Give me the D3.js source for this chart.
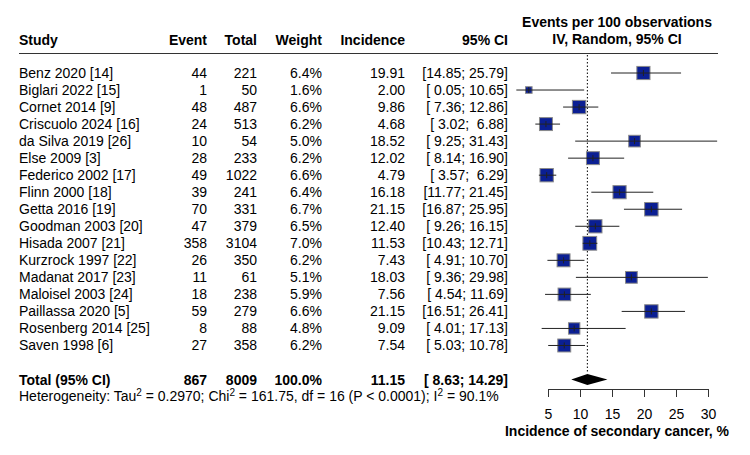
<!DOCTYPE html>
<html>
<head>
<meta charset="utf-8">
<script src="https://cdn.jsdelivr.net/npm/d3@7"></script>
<style>
  body { margin: 0; background: #fff; }
  svg text { font-family: "Liberation Sans", Arial, sans-serif; font-size: 14px; fill: #000; white-space: pre; }
  .bold { font-weight: bold; }
</style>
</head>
<body>
<div id="chart"></div>
<script>
(function() {
  const studies = ["Benz 2020 [14]", "Biglari 2022 [15]", "Cornet 2014 [9]", "Criscuolo 2024 [16]",
    "da Silva 2019 [26]", "Else 2009 [3]", "Federico 2002 [17]", "Flinn 2000 [18]", "Getta 2016 [19]",
    "Goodman 2003 [20]", "Hisada 2007 [21]", "Kurzrock 1997 [22]", "Madanat 2017 [23]",
    "Maloisel 2003 [24]", "Paillassa 2020 [5]", "Rosenberg 2014 [25]", "Saven 1998 [6]"];
  const events = [44, 1, 48, 24, 10, 28, 49, 39, 70, 47, 358, 26, 11, 18, 59, 8, 27];
  const totals = [221, 50, 487, 513, 54, 233, 1022, 241, 331, 379, 3104, 350, 61, 238, 279, 88, 358];
  const weights = [6.4, 1.6, 6.6, 6.2, 5.0, 6.2, 6.6, 6.4, 6.7, 6.5, 7.0, 6.2, 5.1, 5.9, 6.6, 4.8, 6.2];
  const incidence = [19.91, 2.00, 9.86, 4.68, 18.52, 12.02, 4.79, 16.18, 21.15, 12.40, 11.53, 7.43, 18.03, 7.56, 21.15, 9.09, 7.54];
  const ciLow = [14.85, 0.05, 7.36, 3.02, 9.25, 8.14, 3.57, 11.77, 16.87, 9.26, 10.43, 4.91, 9.36, 4.54, 16.51, 4.01, 5.03];
  const ciHigh = [25.79, 10.65, 12.86, 6.88, 31.43, 16.90, 6.29, 21.45, 25.95, 16.15, 12.71, 10.70, 29.98, 11.69, 26.41, 17.13, 10.78];

  const pooled = { events: 867, total: 8009, weight: 100.0, est: 11.15, lo: 8.63, hi: 14.29 };
  const axisTicks = [5, 10, 15, 20, 25, 30];

  const width = 750, height = 455;
  const rowTop = 73, rowStep = 17.03;

  const svg = d3.select("#chart").append("svg")
    .attr("width", width)
    .attr("height", height);

  const x = d3.scaleLinear().domain([5, 30]).range([548, 708]);
  const y = d3.scaleLinear().domain([0, 1]).range([rowTop, rowTop + rowStep]);

  const cols = { study: 19, event: 207, total: 257, weight: 322, inc: 405, ci: 508 };

  // header
  const head = svg.append("g").attr("class", "bold");
  head.append("text").attr("x", cols.study).attr("y", 45).text("Study");
  [["Event", cols.event], ["Total", cols.total], ["Weight", cols.weight], ["Incidence", cols.inc], ["95% CI", cols.ci]]
    .forEach(function(h) {
      head.append("text").attr("x", h[1]).attr("y", 45).attr("text-anchor", "end").text(h[0]);
    });
  head.append("text").attr("x", 617).attr("y", 27).attr("text-anchor", "middle").text("Events per 100 observations");
  head.append("text").attr("x", 617).attr("y", 44).attr("text-anchor", "middle").text("IV, Random, 95% CI");

  svg.append("line")
    .attr("x1", 19).attr("x2", 718)
    .attr("y1", 53.5).attr("y2", 53.5)
    .attr("stroke", "#333").attr("stroke-width", 1);

  const fmt = d3.format(".2f");
  function pad(v) {
    let s = fmt(v);
    while (s.length < 5) s = " " + s;
    return s;
  }
  function ciText(lo, hi) {
    return "[" + pad(lo) + "; " + pad(hi) + "]";
  }

  const rows = studies.map(function(s, i) {
    return { study: s, ev: events[i], n: totals[i], w: weights[i], est: incidence[i], lo: ciLow[i], hi: ciHigh[i], i: i };
  });

  // dotted line at pooled estimate
  svg.append("line")
    .attr("x1", x(pooled.est)).attr("x2", x(pooled.est))
    .attr("y1", 55).attr("y2", y(18) - 6)
    .attr("stroke", "#000").attr("stroke-width", 1)
    .attr("stroke-dasharray", "1.5,2");

  const row = svg.selectAll(".row")
    .data(rows)
    .enter().append("g")
    .attr("class", "row");

  row.append("text").attr("x", cols.study).attr("y", d => y(d.i) + 5).text(d => d.study);
  row.append("text").attr("x", cols.event).attr("y", d => y(d.i) + 5).attr("text-anchor", "end").text(d => d.ev);
  row.append("text").attr("x", cols.total).attr("y", d => y(d.i) + 5).attr("text-anchor", "end").text(d => d.n);
  row.append("text").attr("x", cols.weight).attr("y", d => y(d.i) + 5).attr("text-anchor", "end").text(d => d.w.toFixed(1) + "%");
  row.append("text").attr("x", cols.inc).attr("y", d => y(d.i) + 5).attr("text-anchor", "end").text(d => fmt(d.est));
  row.append("text").attr("x", cols.ci).attr("y", d => y(d.i) + 5).attr("text-anchor", "end").text(d => ciText(d.lo, d.hi));

  const side = d3.scaleSqrt().domain([0, 1]).range([0, 5.2]);

  row.append("rect")
    .attr("x", d => x(d.est) - side(d.w) / 2)
    .attr("y", d => y(d.i) - side(d.w) / 2)
    .attr("width", d => side(d.w))
    .attr("height", d => side(d.w))
    .attr("fill", "#0b1f93")
    .attr("stroke", "#8a8a8a")
    .attr("stroke-width", 1);

  row.append("line")
    .attr("x1", d => x(d.lo)).attr("x2", d => x(d.hi))
    .attr("y1", d => y(d.i)).attr("y2", d => y(d.i))
    .attr("stroke", "#222").attr("stroke-width", 1);

  row.append("line")
    .attr("x1", d => x(d.est)).attr("x2", d => x(d.est))
    .attr("y1", d => y(d.i) - 3).attr("y2", d => y(d.i) + 3)
    .attr("stroke", "#222").attr("stroke-width", 1);

  // total row
  const ty = y(18);
  const tot = svg.append("g").attr("class", "bold");
  tot.append("text").attr("x", cols.study).attr("y", ty + 5).text("Total (95% CI)");
  tot.append("text").attr("x", cols.event).attr("y", ty + 5).attr("text-anchor", "end").text(pooled.events);
  tot.append("text").attr("x", cols.total).attr("y", ty + 5).attr("text-anchor", "end").text(pooled.total);
  tot.append("text").attr("x", cols.weight).attr("y", ty + 5).attr("text-anchor", "end").text(pooled.weight.toFixed(1) + "%");
  tot.append("text").attr("x", cols.inc).attr("y", ty + 5).attr("text-anchor", "end").text(fmt(pooled.est));
  tot.append("text").attr("x", cols.ci).attr("y", ty + 5).attr("text-anchor", "end").text(ciText(pooled.lo, pooled.hi));

  svg.append("path")
    .attr("d", "M" + x(pooled.lo) + "," + ty +
      "L" + x(pooled.est) + "," + (ty - 5.5) +
      "L" + x(pooled.hi) + "," + ty +
      "L" + x(pooled.est) + "," + (ty + 5.5) + "Z")
    .attr("fill", "#000");

  // heterogeneity
  const het = svg.append("text").attr("x", cols.study).attr("y", 401);
  het.append("tspan").text("Heterogeneity: Tau");
  het.append("tspan").attr("dy", -5).style("font-size", "10px").text("2");
  het.append("tspan").attr("dy", 5).text(" = 0.2970; Chi");
  het.append("tspan").attr("dy", -5).style("font-size", "10px").text("2");
  het.append("tspan").attr("dy", 5).text(" = 161.75, df = 16 (P < 0.0001); I");
  het.append("tspan").attr("dy", -5).style("font-size", "10px").text("2");
  het.append("tspan").attr("dy", 5).text(" = 90.1%");

  // axis
  const axis = svg.append("g")
    .attr("transform", "translate(0,389)")
    .call(d3.axisBottom(x).tickValues(axisTicks).tickSize(8).tickPadding(12).tickSizeOuter(0));
  axis.select(".domain").attr("stroke", "#333");
  axis.selectAll(".tick line").attr("stroke", "#333");
  axis.selectAll(".tick text")
    .style("font-family", "'Liberation Sans', Arial, sans-serif")
    .style("font-size", "14px")
    .attr("fill", "#000");

  svg.append("text")
    .attr("class", "bold")
    .attr("x", 617).attr("y", 436)
    .attr("text-anchor", "middle")
    .text("Incidence of secondary cancer, %");
})();
</script>
</body>
</html>
